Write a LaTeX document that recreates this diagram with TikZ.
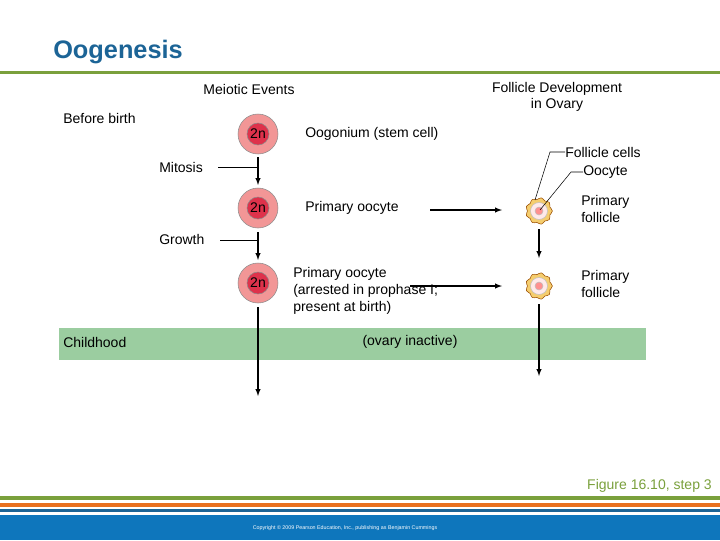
\documentclass[tikz,border=0pt]{standalone}
\usepackage{fontspec}
\setmainfont{Liberation Sans}
\begin{document}
\begin{tikzpicture}[x=0.75pt,y=-0.75pt,
  lbl/.style={font=\fontsize{10.5}{12.5}\selectfont,inner sep=0pt},
  arr/.style={-latex,thick},
  ln/.style={thin}]
\useasboundingbox (0,0) rectangle (720,540);
\definecolor{tgreen}{RGB}{122,160,60}
\definecolor{tblue}{RGB}{28,100,150}
\definecolor{torange}{RGB}{232,112,32}
\definecolor{band}{RGB}{14,118,188}
\definecolor{ggreen}{RGB}{155,205,160}
\definecolor{cellc}{RGB}{242,150,150}
\definecolor{nuc}{RGB}{222,50,75}
\definecolor{fol}{RGB}{245,205,110}
\node[anchor=west,inner sep=0pt,font=\bfseries\fontsize{19}{22}\selectfont,text=tblue] (title) at (53,52) {Oogenesis};
\fill[tgreen] (0,71) rectangle (720,74);
\fill[ggreen] (59,328) rectangle (646,360);
\node[lbl] (me) at (249,89) {Meiotic Events};
\node[lbl,align=center] (fd) at (557,97) {Follicle Development\\in Ovary};
\node[lbl,anchor=west] (bb) at (63,118) {Before birth};
\node[lbl,anchor=west] (mit) at (159,167) {Mitosis};
\node[lbl,anchor=west] (gr) at (159,239) {Growth};
\node[lbl,anchor=west] (ch) at (63,342) {Childhood};
\node[lbl] (oi) at (410,342) {(ovary inactive)};
\foreach \n/\y in {c1/134,c2/208,c3/283}{
  \fill[cellc,draw=black!45] (258,\y) circle (20);
  \fill[nuc,draw=black!45] (258,\y) circle (11);
  \node[lbl] (\n) at (258,\y) {2n};
}
\coordinate (c1b) at (258,157); \coordinate (c2t) at (258,185);
\coordinate (c2b) at (258,232); \coordinate (c3t) at (258,260);
\coordinate (c3b) at (258,307); \coordinate (endl) at (258,396);
\coordinate (m1) at (218,167); \coordinate (m2) at (258,167);
\coordinate (g1) at (220,240); \coordinate (g2) at (258,240);
\draw[arr] (c1b) -- (c2t);
\draw[arr] (c2b) -- (c3t);
\draw[arr] (c3b) -- (endl);
\draw[ln] (m1) -- (m2);
\draw[ln] (g1) -- (g2);
\node[lbl,anchor=west] (og) at (305,134) {Oogonium (stem cell)};
\node[lbl,anchor=west] (po) at (305,208) {Primary oocyte};
\node[lbl,anchor=west,align=left] (pa) at (293,291) {Primary oocyte\\(arrested in prophase I;\\present at birth)};
\foreach \n/\y in {f1/211,f2/286}{
  \draw[fill=fol,draw=orange!60!black,line width=0.4pt] plot[smooth cycle,domain=0:350,samples=36] ({539+(12.5+0.9*cos(9*\x))*cos(\x)},{\y+(12.5+0.9*cos(9*\x))*sin(\x)});
  \fill[pink!35,draw=black!25] (539,\y) circle (8.5);
  \fill[red!25!pink,draw=black!25] (539,\y) circle (4);
  \coordinate (\n) at (539,\y);
}
\draw[arr] (430,210) -- (502,210);
\draw[arr] (410,286) -- (502,286);
\draw[arr] (539,229) -- (539,258);
\draw[arr] (539,304) -- (539,376);
\node[lbl,anchor=west] (fc) at (565,152) {Follicle cells};
\node[lbl,anchor=west] (oc) at (583,172) {Oocyte};
\draw[ln] (535,200) -- (550,152) -- (fc.west);
\draw[ln] (540,210) -- (571,172) -- (oc.west);
\node[lbl,align=left,anchor=west] (pf1) at (581,209) {Primary\\follicle};
\node[lbl,align=left,anchor=west] (pf2) at (581,284) {Primary\\follicle};
\node[anchor=east,inner sep=0pt,font=\fontsize{10.5}{12}\selectfont,text=tgreen] (fig) at (712,486) {Figure 16.10, step 3};
\fill[tgreen] (0,496) rectangle (720,500);
\fill[torange] (0,503) rectangle (720,507);
\fill[tblue] (0,509) rectangle (720,512);
\fill[band] (0,515) rectangle (720,540);
\node[inner sep=0pt,font=\fontsize{4}{5}\selectfont,text=white] (cp) at (345,528) {Copyright © 2009 Pearson Education, Inc., publishing as Benjamin Cummings};
\end{tikzpicture}
\end{document}
